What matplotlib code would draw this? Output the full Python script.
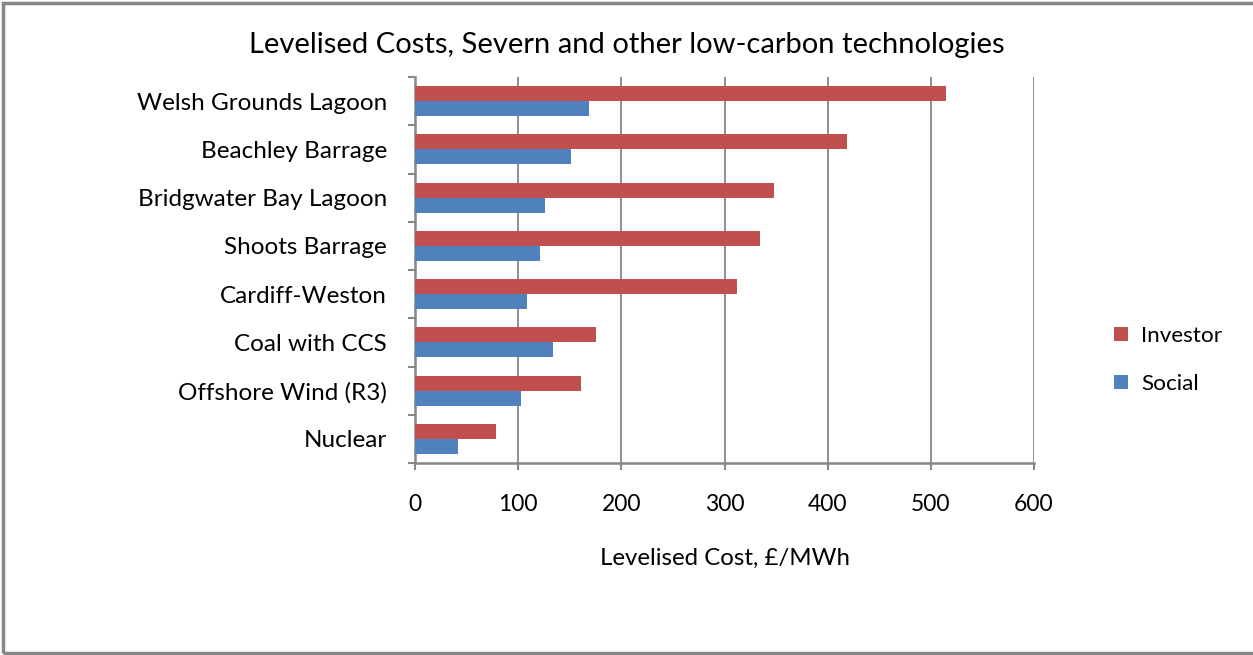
import numpy as np
import matplotlib.pyplot as plt
from matplotlib.patches import Rectangle

plt.rcParams['font.family'] = ['Lato', 'DejaVu Sans']

# Dados (de baixo para cima)
categorias = ['Nuclear', 'Offshore Wind (R3)', 'Coal with CCS', 'Cardiff-Weston',
              'Shoots Barrage', 'Bridgwater Bay Lagoon', 'Beachley Barrage',
              'Welsh Grounds Lagoon']
investor = [78.4, 160.8, 175.2, 311.9, 334, 347.7, 418.4, 514.5]
social = [41.4, 102.5, 134.2, 108.1, 121, 125.8, 151.1, 168.8]

cor_inv = '#c0504d'
cor_soc = '#4f81bd'
cinza = '#878787'

fig = plt.figure(figsize=(12.53, 6.55), dpi=100)
ax = fig.add_axes([415 / 1253, 1 - 463 / 655, (1034 - 415) / 1253, (463 - 77) / 655])

y = np.arange(len(categorias))
h = 0.31
ax.barh(y + h / 2, investor, height=h, color=cor_inv, label='Investor', zorder=3)
ax.barh(y - h / 2, social, height=h, color=cor_soc, label='Social', zorder=3)

ax.set_xlim(0, 600)
ax.set_ylim(-0.5, len(categorias) - 0.5)
ax.set_xticks(range(0, 601, 100))
ax.set_yticks(y)
ax.set_yticklabels(categorias, fontsize=17.5)
ax.set_yticks(np.arange(-0.5, len(categorias), 1), minor=True)
ax.tick_params(axis='y', which='major', length=0, pad=20)
ax.tick_params(axis='y', which='minor', length=5, width=1.5, color=cinza)
ax.tick_params(axis='x', length=5, width=1.5, color=cinza, labelsize=16.5, pad=17)
ax.grid(axis='x', color=cinza, linewidth=1.3, zorder=0)

for lado in ['top', 'right']:
    ax.spines[lado].set_visible(False)
for lado in ['left', 'bottom']:
    ax.spines[lado].set_color(cinza)
    ax.spines[lado].set_linewidth(1.8)

ax.set_xlabel('Levelised Cost, £/MWh', fontsize=17.3, labelpad=24)
fig.text(627 / 1253, 1 - 45 / 655, 'Levelised Costs, Severn and other low-carbon technologies',
         ha='center', va='center', fontsize=21)

# Legenda com Investor acima de Social
handles, labels = ax.get_legend_handles_labels()
fig.legend(handles, labels, loc='center left', bbox_to_anchor=(1094 / 1253, 1 - 360 / 655),
           frameon=False, fontsize=16.2, handlelength=0.6, handleheight=0.6,
           labelspacing=1.25, handletextpad=0.6)

# Moldura externa
fig.patches.append(Rectangle((3 / 1253, 2 / 655), 1.1, 650 / 655, transform=fig.transFigure,
                             fill=False, edgecolor=cinza, linewidth=2.5))

fig.savefig('out.png', dpi=100)
